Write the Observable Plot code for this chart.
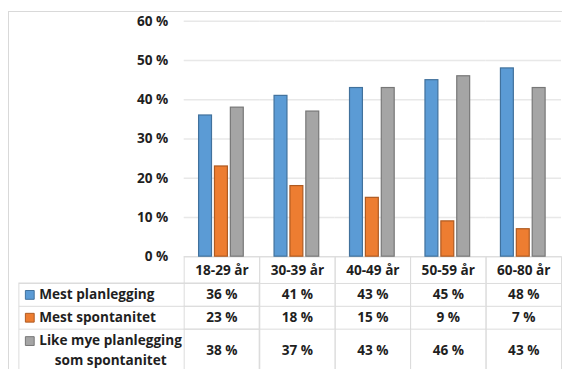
<!DOCTYPE html>
<html>
<head>
<meta charset="utf-8">
<script src="https://cdn.jsdelivr.net/npm/d3@7"></script>
<script src="https://cdn.jsdelivr.net/npm/@observablehq/plot@0.6"></script>
<style>
  html, body { margin: 0; padding: 0; background: #fff; overflow: hidden; }
  #wrap { position: relative; width: 562px; height: 369px; overflow: hidden; }
  #border { position: absolute; left: 8px; top: 11px; width: 700px; height: 500px; border: 1px solid #d9d9d9; box-sizing: border-box; }
  #chart { position: absolute; left: 0; top: 0; }
</style>
</head>
<body>
<div id="wrap"><div id="border"></div><div id="chart"></div></div>
<script>
const categories = ["18-29 år", "30-39 år", "40-49 år", "50-59 år", "60-80 år"];
const series = ["Mest planlegging", "Mest spontanitet", "Like mye planlegging som spontanitet"];
const seriesLines = [["Mest planlegging"], ["Mest spontanitet"], ["Like mye planlegging", "som spontanitet"]];
const mestPlanlegging = [36, 41, 43, 45, 48];
const mestSpontanitet = [23, 18, 15, 9, 7];
const likeMye = [38, 37, 43, 46, 43];
const yTicks = [0, 10, 20, 30, 40, 50, 60];
const fills = ["#5b9bd5", "#ed7d31", "#a5a5a5"];
const strokes = ["#41719c", "#ae5a21", "#777777"];

const values = [mestPlanlegging, mestSpontanitet, likeMye];
const data = [];
series.forEach((s, i) => categories.forEach((c, j) => data.push({age: c, series: s, value: values[i][j]})));

const gridColor = "#e8e8e8";
const tableColor = "#dcdcdc";
const rowDy = [38.5, 61.5, 94.5];   // value text rows below the baseline
const labelDy = [38.5, 61.5, 85];   // first line of row labels
const lineDy = [27, 50, 73];        // horizontal table lines below the baseline
const fs = 13.7;

const marks = [
  Plot.ruleY(yTicks, {stroke: gridColor, strokeWidth: 1.5}),
  Plot.frame({insetTop: 237, insetBottom: -120, stroke: tableColor}),
  ...lineDy.map(dy => Plot.ruleY([0], {dy, stroke: tableColor})),
  ...lineDy.map(dy => Plot.ruleY([categories[0]], {fx: d => d, y: 0, dy, insetLeft: -166, stroke: tableColor})),
  Plot.rect([categories[0]], {fx: d => d, insetLeft: -166, insetTop: 264, insetBottom: -120, fill: "none", stroke: tableColor}),
  Plot.barY(data, {fx: "age", x: "series", y: "value", fill: "series", stroke: (d) => strokes[series.indexOf(d.series)], strokeWidth: 1.2}),
  Plot.text(categories, {fx: d => d, text: d => d, frameAnchor: "bottom", lineAnchor: "middle", dy: 14, fontSize: fs}),
  ...series.map((s, i) => Plot.text(data.filter(d => d.series === s), {fx: "age", text: d => d.value + " %", frameAnchor: "bottom", lineAnchor: "middle", dy: rowDy[i], fontSize: fs})),
  ...series.map((s, i) => Plot.dot([s], {fx: () => categories[0], frameAnchor: "bottom-left", dx: -155.5, dy: labelDy[i], symbol: "square", r: 5, fill: fills[i], stroke: strokes[i], strokeWidth: 1})),
  ...seriesLines.map((lines, i) => Plot.text([lines[0]], {fx: () => categories[0], text: d => d, frameAnchor: "bottom-left", textAnchor: "start", lineAnchor: "middle", dx: -146, dy: labelDy[i], fontSize: fs})),
  Plot.text([seriesLines[2][1]], {fx: () => categories[0], text: d => d, frameAnchor: "bottom-left", textAnchor: "middle", lineAnchor: "middle", dx: -74, dy: 105, fontSize: fs})
];

const chart = Plot.plot({
  width: 566,
  height: 369,
  marginLeft: 183,
  marginRight: 0,
  marginTop: 21,
  marginBottom: 111,
  style: {fontFamily: "'Open Sans', Lato, sans-serif", fontSize: fs + "px", fontWeight: "bold", color: "#1f1f1f", background: "transparent", overflow: "visible"},
  fx: {domain: categories, padding: 0, axis: null},
  x: {domain: series, paddingInner: 0.176, paddingOuter: 0.84, axis: null},
  y: {domain: [0, 60], ticks: yTicks, tickFormat: d => d + " %", tickSize: 0, tickPadding: 16, label: null},
  color: {domain: series, range: fills},
  marks
});
document.getElementById("chart").appendChild(chart);
</script>
</body>
</html>
